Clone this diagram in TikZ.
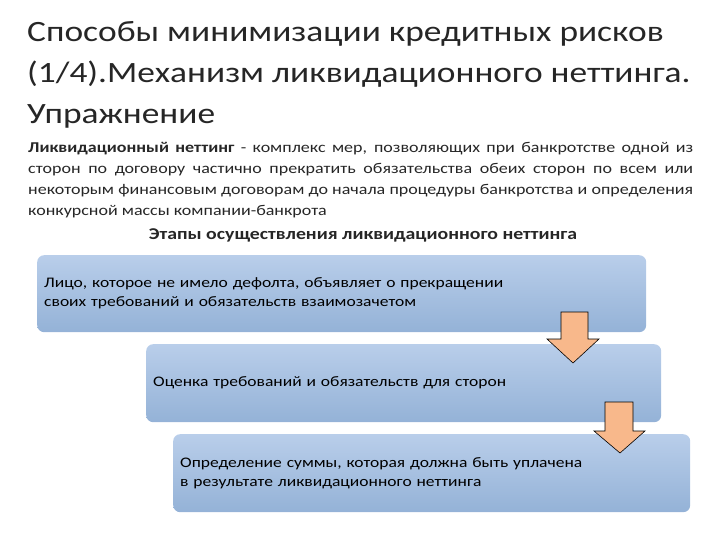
\documentclass[tikz,border=0pt]{standalone}
\usepackage{fontspec}
\setmainfont{Carlito}[FakeStretch=1.2]
\definecolor{boxTop}{HTML}{B9CEEA}
\definecolor{boxBottom}{HTML}{94B2D7}
\definecolor{arrowFill}{HTML}{F8B88B}

\begin{document}
\begin{tikzpicture}
  [x=1pt, y=-1pt,
    StageBox/.style={rounded corners=7pt, top color=boxTop, bottom color=boxBottom, draw=none,
      inner xsep=7pt, align=left, anchor=north west, font=\fontsize{14.6}{19}\selectfont},
    DownArrow/.style={fill=arrowFill, draw=black, line width=0.6pt}]
    \useasboundingbox (0,0) rectangle (720,540);
    % title and definition
    \node [anchor=north west, align=left, inner sep=0pt, font=\fontsize{29.5}{41}\selectfont, text=black!85] (title) at (27,21)
      {Способы минимизации кредитных рисков\\(1/4).Механизм ликвидационного неттинга.\\Упражнение};
    \node [anchor=north west, text width=665pt, align=justify, inner sep=0pt, font=\fontsize{15}{21}\selectfont, text=black!85] (definition) at (28,142)
      {\textbf{Ликвидационный неттинг} - комплекс мер, позволяющих при банкротстве\ одной из\linebreak сторон по договору частично прекратить обязательства обеих сторон по всем или\linebreak некоторым финансовым договорам до начала процедуры банкротства и определения\linebreak конкурсной массы компании-банкрота};
    \node [font=\bfseries\fontsize{16.5}{19}\selectfont, text=black!85] (stages) at (363,235) {Этапы осуществления ликвидационного неттинга};
    % stages
    \node [StageBox, text width=595pt, minimum height=77pt] (stage1) at (37,255)
      {Лицо, которое не имело дефолта, объявляет о прекращении\\своих требований и обязательств взаимозачетом};
    \node [StageBox, text width=501pt, minimum height=78pt] (stage2) at (146,344)
      {Оценка требований и обязательств для сторон};
    \node [StageBox, text width=503pt, minimum height=78pt] (stage3) at (173,434)
      {Определение суммы, которая должна быть уплачена\\в результате ликвидационного неттинга};
    % arrows
    \draw [DownArrow] (561,312) -- (588,312) -- (588,339) -- (599,339) -- (573,363) -- (547,339) -- (561,339) -- cycle;
    \draw [DownArrow] (605,402) -- (633,402) -- (633,431) -- (645,431) -- (620,453) -- (594,431) -- (605,431) -- cycle;
\end{tikzpicture}
\end{document}
